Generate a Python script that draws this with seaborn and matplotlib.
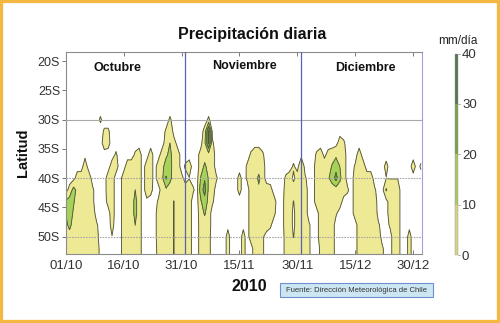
import numpy as np
import matplotlib
matplotlib.use("Agg")
import matplotlib.pyplot as plt
from matplotlib.colors import ListedColormap, BoundaryNorm
from matplotlib.cm import ScalarMappable
from matplotlib.patches import Rectangle
import seaborn as sns

# ---------------- data ----------------
# Daily precipitation (mm/día), one character per day
# starting 01/10/2010 (base-36 digit = mm/día), one row per latitude (°S).
latitudes = [28, 30, 32, 34, 36, 38, 40, 42, 44, 46, 48, 50, 52, 54]
rain_rows = [
    "0000000000 0000000000 0000000000 0000000000 0000000000 0000000000 0000000000 0000000000 0000000000 000",
    "0000000003 0000000000 0000000300 0000000300 0000000000 0000000000 0000000000 0000000000 0000000000 000",
    "0000000000 3300000000 0000003800 0000004w00 0000000000 0000000000 0000000000 0000000000 0000000000 000",
    "0000000000 5400000000 0000005a50 0000008v30 0000000000 0000000000 0000000000 0530000000 0000000000 000",
    "0000010000 0003000035 0050058d55 0000056650 0000000036 6300000000 0000035145 8650005000 0000000000 000",
    "0000050000 0055005555 055057fe55 035005c650 0000000355 6500000003 090005555b ga50035500 0004000000 503",
    "0005555000 0550055555 055058ld55 40200bj953 0000040355 c500000351 553005559e oc50055555 0002222000 000",
    "04d8555300 05500555a5 0540058555 55530fo850 0000040055 8554000455 5550055555 5553055555 300b555000 000",
    "beb6555300 04500555d5 0100355525 555009g730 0000000055 5555400552 5550055555 5500055555 5000555000 000",
    "ae95555500 00500555d5 0000555525 555006b500 0000000055 5555300551 5550005555 3000055555 6000555000 000",
    "8c75555530 00400555a5 0000555525 5550056500 0010001055 5553000551 5553005555 0000005555 5300355001 000",
    "5755555540 0020055555 0000555525 5550055400 0040004055 5300000452 5553005555 0000005555 5500055004 000",
    "5555555560 0000055555 0000455525 5550055400 0040004005 5300000455 5553003555 0000005555 5530055004 000",
    "5555555560 0000055555 0000455525 5550055400 0040004005 5300000455 5553003555 0000005555 5530055004 000",
]
tick_days = [0, 15, 30, 45, 60, 75, 90]
tick_labels = ["01/10", "16/10", "31/10", "15/11", "30/11", "15/12", "30/12"]
lat_ticks = [20, 25, 30, 35, 40, 45, 50]
lat_labels = ["20S", "25S", "30S", "35S", "40S", "45S", "50S"]
month_names = ["Octubre", "Noviembre", "Diciembre"]
month_start_days = [31, 61]          # 01/11 and 01/12
grid_lats = [30, 40, 50]
fill_levels = [2.2, 10, 20, 30, 45]
cbar_bounds = [0, 10, 20, 30, 40]

field = np.array([[int(c, 36) for c in row.replace(" ", "")] for row in rain_rows], dtype=float)
days = np.arange(field.shape[1])

# ---------------- style ----------------
sns.set_theme(style="white")
plt.rcParams["font.family"] = ["Liberation Sans", "DejaVu Sans"]

fill_colors = sns.color_palette(["#eee994", "#a6d25a", "#78a646", "#44603f"])
bar_colors = sns.color_palette(["#d8d286", "#a8c866", "#7aa048", "#557555"])

W, H = 500, 323
def fx(x): return x / W
def fy(y): return 1 - y / H

fig = plt.figure(figsize=(W / 100, H / 100), dpi=100)
fig.patch.set_facecolor("white")

ax_l, ax_r, ax_t, ax_b = 65.7, 421.7, 51.7, 254.3
ax = fig.add_axes([fx(ax_l), fy(ax_b), (ax_r - ax_l) / W, (ax_b - ax_t) / H])
ax.set_facecolor("white")

ax.contourf(days, latitudes, field, levels=fill_levels, colors=fill_colors)
ax.contour(days, latitudes, field, levels=fill_levels[:-1], colors="#55553f", linewidths=0.65)

for lat in grid_lats:
    ax.axhline(lat, color="#a8a8a8", lw=0.8, ls="-" if lat == 30 else (0, (1.5, 1)), zorder=3)
for d in month_start_days:
    ax.axvline(d, color="#5563b5", lw=0.9, zorder=3)

ax.set_xlim(0, 92.2)
ax.set_ylim(53, 18.4)
ax.set_xticks(tick_days)
ax.set_xticklabels(tick_labels)
ax.set_yticks(lat_ticks)
ax.set_yticklabels(lat_labels)
ax.tick_params(axis="x", direction="in", top=True, bottom=True, length=3, width=0.7,
               color="#777777", labelsize=9.5, labelcolor="#333333", pad=4)
ax.tick_params(axis="y", direction="out", left=True, length=3, width=0.7,
               color="#777777", labelsize=9, labelcolor="#333333", pad=1)
for side in ["top", "left", "bottom"]:
    ax.spines[side].set_color("#8c8c8c")
    ax.spines[side].set_linewidth(0.8)
ax.spines["right"].set_color("#a0a0dc")
ax.spines["right"].set_linewidth(0.8)

month_pos = [(13.5, 21.2), (46.4, 20.85), (77.5, 21.1)]
for name, (mx, my) in zip(month_names, month_pos):
    ax.text(mx, my, name, ha="center", va="center", fontsize=9, fontweight="bold", color="#111111")

# colorbar
cax = fig.add_axes([fx(455), fy(255), 2.8 / W, (255 - 53.5) / H])
sm = ScalarMappable(norm=BoundaryNorm(cbar_bounds, 4), cmap=ListedColormap(bar_colors))
cb = fig.colorbar(sm, cax=cax, ticks=cbar_bounds)
cb.outline.set_linewidth(0.3)
cb.outline.set_edgecolor("#999999")
cax.tick_params(length=1.5, width=0.5, color="#777777", labelsize=9.5, labelcolor="#333333", pad=1.5)

# texts
fig.text(fx(251.7), fy(34.3), "Precipitación diaria", ha="center", va="center",
         fontsize=11.5, fontweight="bold", color="#111111")
fig.text(fx(23.3), fy(152.7), "Latitud", ha="center", va="center", rotation=90,
         fontsize=10.5, fontweight="bold", color="#111111")
fig.text(fx(249), fy(286.7), "2010", ha="center", va="center",
         fontsize=11.5, fontweight="bold", color="#111111")
fig.text(fx(457.5), fy(41), "mm/día", ha="center", va="center", fontsize=8.5, color="#222222")

# source box
fig.patches.append(Rectangle((fx(280), fy(297)), 153 / W, 14 / H, transform=fig.transFigure,
                             facecolor="#cce7f3", edgecolor="#6f8fd0", linewidth=0.8))
fig.text(fx(356.5), fy(290), "Fuente: Dirección Meteorológica de Chile", ha="center", va="center",
         fontsize=5.5, color="#333333")

# orange frame
fig.patches.append(Rectangle((0, 0), 1, 1, transform=fig.transFigure, fill=False,
                             edgecolor="#f4b742", linewidth=4.5))

fig.savefig("out.png", dpi=100)
